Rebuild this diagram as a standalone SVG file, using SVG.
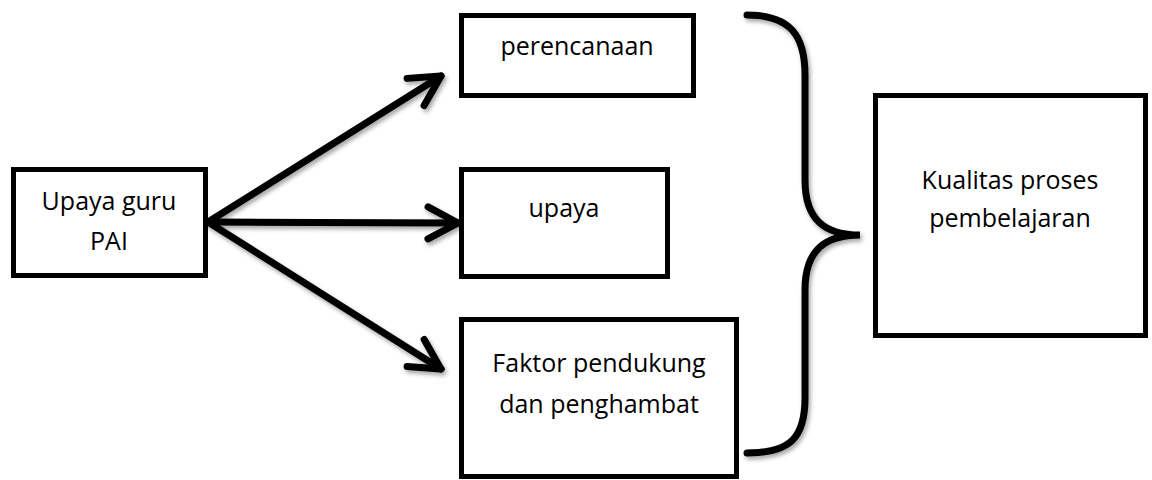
<svg xmlns="http://www.w3.org/2000/svg" width="1152" height="480" viewBox="0 0 1152 480">
  <defs>
    <style>
      .box { fill: #ffffff; stroke: #000000; stroke-width: 5; }
      .lbl { font-family: "Open Sans", "Liberation Sans", sans-serif; font-size: 25px; fill: #000000; text-anchor: middle; }
      .arrow { stroke: #000000; stroke-width: 7; stroke-linecap: round; fill: none; }
      .brace { stroke: #000000; stroke-width: 7; stroke-linecap: round; fill: none; }
    </style>
    <marker id="chev" markerUnits="userSpaceOnUse" markerWidth="50" markerHeight="50" refX="0" refY="0" viewBox="-40 -25 50 50" orient="auto">
      <path d="M -30,-16 L 0,0 L -30,16" stroke="#000" stroke-width="7" stroke-linecap="round" stroke-linejoin="round" fill="none"/>
    </marker>
    <filter id="sh" x="-10%" y="-10%" width="130%" height="130%">
      <feDropShadow dx="2" dy="3" stdDeviation="2" flood-color="#000" flood-opacity="0.35"/>
    </filter>
  </defs>
  <rect width="1152" height="480" fill="#ffffff"/>

  <g id="connectors" filter="url(#sh)">
    <line class="arrow" x1="208" y1="222" x2="441" y2="76" marker-end="url(#chev)"/>
    <line class="arrow" x1="208" y1="222" x2="458" y2="223" marker-end="url(#chev)"/>
    <line class="arrow" x1="208" y1="222" x2="441" y2="369" marker-end="url(#chev)"/>
    <path class="brace" d="M 747,15 C 790,15 805,35 805,75 L 805,180 C 805,220 825,235 860,235 C 825,235 805,250 805,290 L 805,398 C 805,438 790,453 747,453"/>
  </g>

  <g id="node-upaya-guru">
    <rect class="box" x="13.5" y="169.5" width="192" height="106"/>
    <text class="lbl" x="109" y="210">Upaya guru</text>
    <text class="lbl" x="109" y="250">PAI</text>
  </g>

  <g id="node-perencanaan">
    <rect class="box" x="461.5" y="15.5" width="232" height="80"/>
    <text class="lbl" x="577" y="55">perencanaan</text>
  </g>

  <g id="node-upaya">
    <rect class="box" x="461.5" y="169.5" width="206" height="107"/>
    <text class="lbl" x="564" y="217">upaya</text>
  </g>

  <g id="node-faktor">
    <rect class="box" x="461.5" y="319.5" width="275" height="157"/>
    <text class="lbl" x="599" y="372">Faktor pendukung</text>
    <text class="lbl" x="599" y="413">dan penghambat</text>
  </g>

  <g id="node-kualitas">
    <rect class="box" x="875.5" y="95.5" width="270" height="240"/>
    <text class="lbl" x="1010" y="189">Kualitas proses</text>
    <text class="lbl" x="1010" y="227">pembelajaran</text>
  </g>
</svg>
